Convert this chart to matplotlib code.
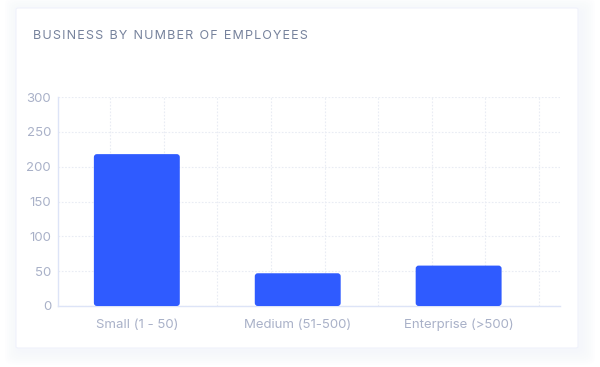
import numpy as np
import matplotlib
matplotlib.use('Agg')
from matplotlib import pyplot as plt
from matplotlib.patches import FancyBboxPatch

categories = ['Small (1 - 50)', 'Medium (51-500)', 'Enterprise (>500)']
counts = [218, 47, 58]
y_ticks = [0, 50, 100, 150, 200, 250, 300]

BAR_COLOR = '#2f5bff'
TEXT_COLOR = '#a9b1c8'
TITLE_COLOR = '#76829c'
GRID_COLOR = '#e9ecf4'
SPINE_COLOR = '#dde4f7'

plt.rcParams['font.family'] = ['Inter', 'DejaVu Sans']

fig = plt.figure(figsize=(6, 3.67), dpi=100)
fig.patch.set_facecolor('white')

# carte avec ombre douce
W, H = 600, 367
for g in range(14, 0, -2):
    sh = FancyBboxPatch(((16 - g + 3) / W, (H - 348 - g - 3) / H), (562 + 2 * g) / W, (340 + 2 * g) / H,
                        boxstyle='round,pad=0,rounding_size=0.02', transform=fig.transFigure,
                        facecolor='#dde1fb', edgecolor='none', alpha=0.035, zorder=0)
    fig.patches.append(sh)
card = FancyBboxPatch((16 / W, (H - 348) / H), 562 / W, 340 / H,
                      boxstyle='round,pad=0,rounding_size=0.004', transform=fig.transFigure,
                      facecolor='white', edgecolor='#f0f2fb', linewidth=0.8, zorder=1)
fig.patches.append(card)

fig.text(33 / W, 1 - 36 / H, 'B U S I N E S S   B Y   N U M B E R   O F   E M P L O Y E E S'.replace('   ', '\u2002').replace(' ', '\u200a'),
         color=TITLE_COLOR, fontsize=9.0, va='center', ha='left', zorder=2)

ax = fig.add_axes([58 / W, 1 - 306 / H, 502 / W, 209 / H])
ax.set_facecolor('none')
ax.set_zorder(3)

x = np.arange(len(categories))
bars = ax.bar(x, counts, width=0.534, color=BAR_COLOR, alpha=0)
ax.set_xlim(-0.49, 2.63)
ax.set_ylim(0, 300)

# barres à coins arrondis
px_x = 502 / (2.63 + 0.49)
px_y = 209 / 300
r = 3 / px_x
for b in bars:
    p = FancyBboxPatch((b.get_x(), b.get_y()), b.get_width(), b.get_height(),
                       boxstyle=f'round,pad=0,rounding_size={r}', mutation_aspect=px_x / px_y,
                       facecolor=BAR_COLOR, edgecolor='none', zorder=3)
    ax.add_patch(p)

ax.set_yticks(y_ticks)
ax.set_xticks(x)
ax.set_xticklabels(categories)
ax.set_xticks(np.arange(-1 / 6, 2.6, 1 / 3), minor=True)
ax.tick_params(which='both', length=0, colors=TEXT_COLOR, labelsize=9.5)
ax.tick_params(axis='x', pad=9)
ax.tick_params(axis='y', pad=5)
ax.grid(axis='y', which='major', color=GRID_COLOR, linestyle=(0, (1.5, 1.5)), linewidth=0.8)
ax.grid(axis='x', which='minor', color=GRID_COLOR, linestyle=(0, (1.5, 1.5)), linewidth=0.8)
ax.grid(axis='x', which='major', visible=False)
ax.set_axisbelow(True)

for s in ['top', 'right']:
    ax.spines[s].set_visible(False)
for s in ['left', 'bottom']:
    ax.spines[s].set_color(SPINE_COLOR)
    ax.spines[s].set_linewidth(1)

fig.savefig('out.png', dpi=100)
